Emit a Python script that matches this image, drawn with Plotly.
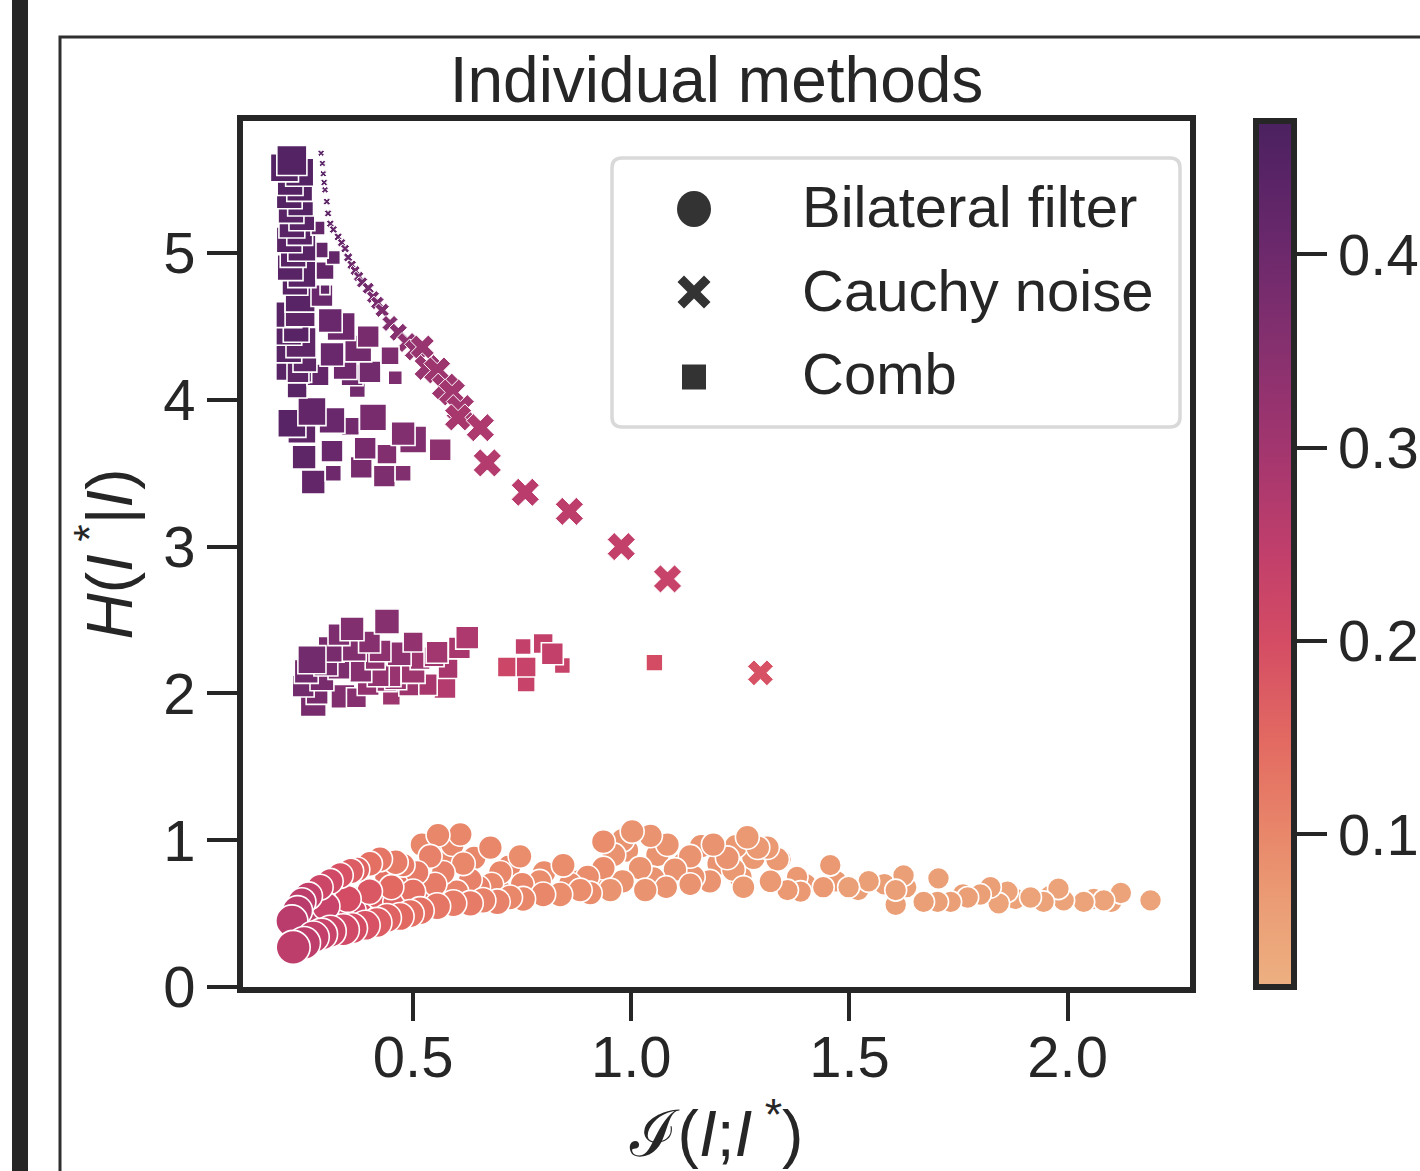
import plotly.graph_objects as go

# ---------------- data ----------------
# Bilateral filter (circles): x = I(I;I*), y = H(I*|I), hue = colour variable, w = size variable (0..1)
bil_x = [0.38, 0.42, 0.46, 0.33, 0.36, 0.28, 0.26, 0.44, 0.48, 0.52, 0.57, 0.62, 0.70, 0.58, 0.64,
         0.72, 0.80, 0.88, 0.93, 0.99, 1.06, 1.12, 1.20, 1.25, 1.28, 1.40, 1.47, 1.52, 1.58, 1.63,
         1.76, 1.88, 1.96, 2.06, 2.10, 1.16, 1.24, 0.98, 0.52, 0.59,
         1.456, 1.342, 1.38, 1.335, 1.312, 1.29, 1.266, 1.234, 1.22, 1.188, 1.18, 1.142, 1.135, 1.10, 1.083,
         1.05, 1.044, 1.02, 1.002, 0.98, 0.96, 0.936, 0.936, 0.90, 0.86, 0.844, 0.79, 0.75, 0.745, 0.70,
         0.68, 0.677, 0.65, 0.631, 0.615, 0.60, 0.608, 0.569, 0.557, 0.55, 0.539, 0.509, 0.50, 0.477, 0.46,
         0.45, 0.424, 0.401, 0.40, 0.372, 0.357, 0.35, 0.333, 0.31, 0.30, 0.287, 0.26, 0.245, 0.235, 0.222,
         2.19, 2.122, 2.083, 2.037, 1.991, 1.979, 1.945, 1.915, 1.862, 1.842, 1.823, 1.80, 1.771, 1.732, 1.704,
         1.702, 1.67, 1.624, 1.606, 1.606, 1.544, 1.498, 1.44, 1.388, 1.358, 1.319, 1.257, 1.135, 1.08, 1.032,
         0.952, 0.906, 0.883, 0.837, 0.798, 0.752, 0.722, 0.693, 0.66, 0.631, 0.592, 0.555, 0.516, 0.493, 0.47,
         0.44, 0.417, 0.39, 0.36, 0.34, 0.31, 0.29, 0.271, 0.25, 0.225]
bil_y = [0.60, 0.62, 0.58, 0.50, 0.52, 0.50, 0.42, 0.75, 0.72, 0.60, 0.62, 0.62, 0.65, 0.92, 0.88,
         0.82, 0.78, 0.72, 0.70, 0.93, 0.90, 0.84, 0.84, 0.75, 0.88, 0.70, 0.72, 0.66, 0.70, 0.68,
         0.63, 0.60, 0.62, 0.60, 0.58, 0.96, 0.96, 1.00, 0.97, 0.97,
         0.83, 0.87, 0.75, 0.87, 0.95, 0.95, 1.02, 0.80, 0.88, 0.97, 0.72, 0.75, 0.89, 0.80, 0.97,
         0.74, 1.03, 0.81, 1.06, 0.72, 0.90, 0.81, 0.99, 0.75, 0.70, 0.83, 0.72, 0.70, 0.89, 0.78,
         0.70, 0.95, 0.68, 0.73, 0.84, 0.65, 1.04, 0.78, 1.035, 0.70, 0.89, 0.78, 0.65, 0.83, 0.85,
         0.68, 0.87, 0.84, 0.65, 0.80, 0.79, 0.60, 0.76, 0.72, 0.55, 0.68, 0.62, 0.58, 0.52, 0.45,
         0.59, 0.64, 0.59, 0.58, 0.59, 0.67, 0.58, 0.61, 0.65, 0.57, 0.68, 0.63, 0.61, 0.58, 0.74,
         0.58, 0.58, 0.76, 0.56, 0.66, 0.72, 0.68, 0.68, 0.65, 0.66, 0.72, 0.68, 0.70, 0.68, 0.66,
         0.66, 0.64, 0.66, 0.63, 0.63, 0.60, 0.61, 0.58, 0.59, 0.57, 0.57, 0.55, 0.52, 0.50, 0.48,
         0.47, 0.44, 0.42, 0.40, 0.39, 0.38, 0.36, 0.34, 0.30, 0.27]
bil_hue = [0.19, 0.17, 0.16, 0.22, 0.21, 0.24, 0.25, 0.14, 0.13, 0.13, 0.12, 0.11, 0.10, 0.10, 0.10,
           0.10, 0.09, 0.09, 0.08, 0.08, 0.08, 0.08, 0.08, 0.07, 0.07, 0.07, 0.07, 0.06, 0.06, 0.06,
           0.06, 0.05, 0.05, 0.05, 0.05, 0.08, 0.07, 0.08, 0.10, 0.10,
           0.07, 0.07, 0.07, 0.07, 0.07, 0.07, 0.07, 0.07, 0.08, 0.08, 0.08, 0.08, 0.08, 0.08, 0.08,
           0.08, 0.08, 0.08, 0.08, 0.08, 0.08, 0.09, 0.09, 0.09, 0.09, 0.09, 0.09, 0.10, 0.09, 0.10,
           0.10, 0.10, 0.11, 0.11, 0.10, 0.11, 0.10, 0.11, 0.10, 0.12, 0.11, 0.12, 0.14, 0.12, 0.12,
           0.15, 0.13, 0.14, 0.18, 0.16, 0.17, 0.20, 0.19, 0.21, 0.23, 0.22, 0.24, 0.25, 0.26, 0.26,
           0.05, 0.05, 0.05, 0.05, 0.05, 0.05, 0.05, 0.05, 0.05, 0.05, 0.06, 0.06, 0.06, 0.06, 0.06,
           0.06, 0.06, 0.06, 0.06, 0.06, 0.06, 0.06, 0.07, 0.07, 0.07, 0.07, 0.07, 0.08, 0.08, 0.08,
           0.08, 0.09, 0.09, 0.09, 0.10, 0.10, 0.10, 0.11, 0.11, 0.12, 0.12, 0.13, 0.14, 0.14, 0.15,
           0.16, 0.17, 0.19, 0.20, 0.21, 0.22, 0.23, 0.24, 0.25, 0.25]
bil_w = [0.75, 0.71, 0.71, 0.79, 0.79, 0.86, 0.86, 0.68, 0.68, 0.68, 0.68, 0.64, 0.64, 0.64, 0.64,
         0.64, 0.64, 0.64, 0.64, 0.64, 0.64, 0.64, 0.64, 0.64, 0.64, 0.57, 0.57, 0.57, 0.57, 0.57,
         0.57, 0.57, 0.57, 0.57, 0.57, 0.64, 0.64, 0.64, 0.64, 0.64,
         0.57, 0.57, 0.57, 0.64, 0.64, 0.64, 0.64, 0.64, 0.64, 0.64, 0.64, 0.64, 0.64, 0.64, 0.64,
         0.64, 0.64, 0.64, 0.64, 0.64, 0.64, 0.64, 0.64, 0.64, 0.64, 0.64, 0.64, 0.64, 0.64, 0.64,
         0.64, 0.64, 0.64, 0.64, 0.64, 0.64, 0.64, 0.64, 0.64, 0.64, 0.64, 0.64, 0.68, 0.64, 0.68,
         0.68, 0.68, 0.68, 0.71, 0.68, 0.71, 0.75, 0.71, 0.71, 0.79, 0.71, 0.79, 0.79, 0.86, 0.93,
         0.57, 0.57, 0.57, 0.57, 0.57, 0.57, 0.57, 0.57, 0.57, 0.57, 0.57, 0.57, 0.57, 0.57, 0.57,
         0.57, 0.57, 0.57, 0.57, 0.57, 0.57, 0.57, 0.57, 0.57, 0.57, 0.61, 0.61, 0.61, 0.61, 0.64,
         0.64, 0.64, 0.64, 0.68, 0.68, 0.68, 0.68, 0.71, 0.71, 0.71, 0.75, 0.75, 0.79, 0.79, 0.79,
         0.82, 0.86, 0.86, 0.89, 0.93, 0.93, 0.93, 0.93, 0.96, 1.00]

# Cauchy noise (crosses)
cau_x = [0.289, 0.292, 0.294, 0.296, 0.298, 0.302, 0.305, 0.310, 0.317, 0.328,
         0.336, 0.344, 0.351, 0.359, 0.367, 0.375, 0.383, 0.397, 0.408, 0.418,
         0.429, 0.447, 0.466, 0.486, 0.505, 0.521, 0.532, 0.555, 0.573, 0.589,
         0.608, 0.603, 0.654, 0.670, 0.757, 0.858, 0.977, 1.083, 1.296]
cau_y = [5.68, 5.61, 5.54, 5.48, 5.43, 5.35, 5.27, 5.20, 5.16, 5.11,
         5.07, 5.03, 4.97, 4.92, 4.88, 4.84, 4.80, 4.76, 4.70, 4.66,
         4.61, 4.52, 4.46, 4.39, 4.34, 4.36, 4.22, 4.20, 4.09, 4.05,
         3.94, 3.88, 3.81, 3.57, 3.37, 3.24, 3.00, 2.78, 2.14]
cau_hue = [0.44, 0.44, 0.44, 0.44, 0.43, 0.43, 0.43, 0.42, 0.42, 0.42,
           0.41, 0.41, 0.41, 0.40, 0.40, 0.40, 0.39, 0.39, 0.38, 0.38,
           0.37, 0.36, 0.35, 0.34, 0.33, 0.32, 0.32, 0.31, 0.31, 0.30,
           0.30, 0.29, 0.28, 0.27, 0.26, 0.25, 0.24, 0.23, 0.19]
cau_w = [0.02, 0.02, 0.02, 0.03, 0.03, 0.04, 0.05, 0.06, 0.07, 0.08,
         0.09, 0.10, 0.12, 0.13, 0.15, 0.16, 0.19, 0.22, 0.25, 0.27,
         0.30, 0.36, 0.43, 0.50, 0.57, 0.64, 0.71, 0.75, 0.75, 0.75,
         0.79, 0.75, 0.79, 0.79, 0.79, 0.79, 0.79, 0.79, 0.71]

# Comb (squares)
comb_x = [0.271, 0.339, 0.45, 0.28, 0.37, 0.573, 0.248, 0.530, 0.397, 0.49,
          0.440, 0.291, 0.46, 0.447, 0.42, 0.500, 0.38, 0.255, 0.33, 0.58,
          0.30, 0.413, 0.516, 0.548, 0.468, 0.555, 0.424, 0.312, 0.365, 0.606,
          0.40, 0.50, 0.624, 0.33, 0.360, 0.440, 0.268,
          0.759, 0.716, 0.842, 0.759, 0.752, 0.798, 0.819, 1.053,
          0.271, 0.434, 0.477, 0.317, 0.381, 0.25, 0.44, 0.314, 0.562, 0.39,
          0.500, 0.477, 0.245, 0.356, 0.222, 0.314, 0.408, 0.268,
          0.234, 0.372, 0.36, 0.282, 0.24, 0.215, 0.236, 0.401, 0.344, 0.459,
          0.252, 0.447, 0.314, 0.215, 0.374, 0.243, 0.397, 0.215, 0.232, 0.335,
          0.310, 0.215, 0.241, 0.241, 0.291, 0.298, 0.229, 0.245, 0.298, 0.218,
          0.317, 0.225, 0.287, 0.245, 0.216, 0.240, 0.282, 0.222, 0.245, 0.220,
          0.242, 0.216, 0.240, 0.218, 0.240, 0.205, 0.222]
comb_y = [1.93, 1.98, 1.98, 2.00, 1.97, 2.04, 2.05, 2.06, 2.06, 2.05,
          2.08, 2.10, 2.10, 2.12, 2.12, 2.15, 2.15, 2.15, 2.17, 2.17,
          2.20, 2.23, 2.23, 2.25, 2.27, 2.28, 2.29, 2.30, 2.30, 2.31,
          2.35, 2.35, 2.38, 2.40, 2.44, 2.49, 2.23,
          2.07, 2.18, 2.19, 2.18, 2.32, 2.34, 2.27, 2.21,
          3.44, 3.48, 3.50, 3.50, 3.54, 3.61, 3.63, 3.65, 3.66, 3.67,
          3.73, 3.77, 3.80, 3.82, 3.84, 3.86, 3.88, 3.92,
          4.08, 4.07, 4.17, 4.17, 4.20, 4.22, 4.19, 4.19, 4.22, 4.15,
          4.27, 4.30, 4.31, 4.34, 4.35, 4.39, 4.43, 4.46, 4.48, 4.50,
          4.54, 4.58, 4.60, 4.70, 4.71, 4.75, 4.80, 4.86, 4.88, 4.90,
          4.97, 4.99, 5.02, 5.04, 5.09, 5.14, 5.17, 5.19, 5.24, 5.29,
          5.34, 5.39, 5.44, 5.48, 5.55, 5.58, 5.63]
comb_hue = [0.38, 0.36, 0.31, 0.38, 0.35, 0.27, 0.39, 0.29, 0.33, 0.31,
            0.32, 0.38, 0.32, 0.32, 0.33, 0.31, 0.35, 0.39, 0.37, 0.29,
            0.38, 0.34, 0.31, 0.30, 0.34, 0.30, 0.34, 0.38, 0.36, 0.29,
            0.35, 0.33, 0.28, 0.37, 0.36, 0.35, 0.39,
            0.23, 0.22, 0.23, 0.23, 0.24, 0.24, 0.24, 0.20,
            0.42, 0.37, 0.36, 0.40, 0.38, 0.43, 0.36, 0.41, 0.34, 0.38,
            0.36, 0.36, 0.43, 0.39, 0.44, 0.41, 0.38, 0.42,
            0.44, 0.39, 0.40, 0.42, 0.44, 0.44, 0.43, 0.39, 0.40, 0.37,
            0.43, 0.37, 0.41, 0.44, 0.39, 0.43, 0.38, 0.44, 0.44, 0.40,
            0.41, 0.44, 0.43, 0.44, 0.41, 0.42, 0.44, 0.44, 0.42, 0.44,
            0.42, 0.44, 0.42, 0.44, 0.44, 0.44, 0.42, 0.44, 0.44, 0.44,
            0.45, 0.45, 0.45, 0.45, 0.45, 0.45, 0.45]
comb_w = [0.71, 0.64, 0.43, 0.57, 0.50, 0.57, 0.57, 0.57, 0.57, 0.50,
          0.50, 0.64, 0.57, 0.57, 0.57, 0.64, 0.57, 0.64, 0.57, 0.50,
          0.64, 0.50, 0.50, 0.50, 0.64, 0.57, 0.57, 0.71, 0.64, 0.57,
          0.57, 0.50, 0.61, 0.57, 0.64, 0.68, 0.79,
          0.43, 0.50, 0.36, 0.50, 0.36, 0.50, 0.57, 0.39,
          0.64, 0.57, 0.36, 0.36, 0.57, 0.64, 0.50, 0.57, 0.57, 0.57,
          0.75, 0.64, 0.79, 0.43, 0.79, 0.71, 0.75, 0.79,
          0.50, 0.36, 0.57, 0.57, 0.64, 0.71, 0.57, 0.57, 0.64, 0.29,
          0.64, 0.43, 0.64, 0.71, 0.75, 0.86, 0.57, 0.71, 0.71, 0.79,
          0.64, 0.71, 0.86, 0.86, 0.57, 0.14, 0.71, 0.79, 0.43, 0.71,
          0.29, 0.71, 0.36, 0.79, 0.71, 0.71, 0.29, 0.71, 0.71, 0.71,
          0.71, 0.71, 0.71, 0.71, 0.79, 0.79, 0.86]

for a, b, c, d in [(bil_x, bil_y, bil_hue, bil_w), (cau_x, cau_y, cau_hue, cau_w), (comb_x, comb_y, comb_hue, comb_w)]:
    assert len(a) == len(b) == len(c) == len(d), (len(a), len(b), len(c), len(d))

legend_labels = ["Bilateral filter", "Cauchy noise", "Comb"]
cbar_ticks = [0.1, 0.2, 0.3, 0.4]
x_ticks = [0.5, 1.0, 1.5, 2.0]
y_ticks = [0, 1, 2, 3, 4, 5]

# ---------------- style ----------------
INK = "#262626"
FONT = "Liberation Sans, Arial, sans-serif"
SIZE_MIN, SIZE_MAX = 6, 34


def px(w, k=1.0):
    return [(SIZE_MIN + (SIZE_MAX - SIZE_MIN) * v) * k for v in w]


flare = [
    [0.00, "#EDB081"], [0.10, "#EB9C74"], [0.18, "#E8866A"], [0.28, "#E36B62"],
    [0.40, "#D44C64"], [0.50, "#C13F6B"], [0.62, "#A3366F"], [0.74, "#86306F"],
    [0.85, "#6C296C"], [0.93, "#5A2466"], [1.00, "#4B2160"],
]

L, R, T, B = 243, 1190, 121, 987
W, H = 1420, 1171
PW, PH = R - L, B - T


def pxx(x):
    return (x - L) / PW


def pxy(y):
    return (B - y) / PH


fig = go.Figure()

fig.add_trace(go.Scatter(
    x=bil_x, y=bil_y, mode="markers", name=legend_labels[0], showlegend=False,
    marker=dict(symbol="circle", size=px(bil_w), color=bil_hue, coloraxis="coloraxis",
                line=dict(color="white", width=1.6), opacity=1)))
fig.add_trace(go.Scatter(
    x=cau_x, y=cau_y, mode="markers", name=legend_labels[1], showlegend=False,
    marker=dict(symbol="x", size=px(cau_w, 0.885), color=cau_hue, coloraxis="coloraxis",
                line=dict(color="white", width=1.0), opacity=1)))
fig.add_trace(go.Scatter(
    x=comb_x, y=comb_y, mode="markers", name=legend_labels[2], showlegend=False,
    marker=dict(symbol="square", size=px(comb_w), color=comb_hue, coloraxis="coloraxis",
                line=dict(color="white", width=1.6), opacity=1)))

axis_common = dict(showline=True, linewidth=6, linecolor=INK, mirror=True, ticks="outside",
                   tickwidth=4, tickcolor=INK, showgrid=False, zeroline=False,
                   tickfont=dict(family=FONT, size=58, color=INK))

fig.update_xaxes(range=[(L - 195) / 436.3, (R - 195) / 436.3], tickvals=x_ticks, tickformat=".1f",
                 ticklen=28, ticklabelstandoff=-14,
                 title=dict(text="ℐ(<i>I</i>;<i>I</i><sup> *</sup>)", standoff=3,
                            font=dict(family=FONT, size=64, color=INK)),
                 **axis_common)
fig.update_yaxes(range=[0, (B - T) / 146.8], tickvals=y_ticks, ticklen=30,
                 title=dict(text="<i>H</i>(<i>I</i><sup> *</sup>|<i>I</i>)", standoff=12,
                            font=dict(family=FONT, size=64, color=INK)),
                 **axis_common)

shapes = []
# outer panel frame and thick bar at left
shapes.append(dict(type="rect", xref="paper", yref="paper", x0=pxx(60), x1=pxx(1440), y0=pxy(1200), y1=pxy(37),
                   line=dict(color="#2F2F2F", width=3), fillcolor="rgba(0,0,0,0)", layer="below"))
shapes.append(dict(type="rect", xref="paper", yref="paper", x0=pxx(12), x1=pxx(28), y0=pxy(1200), y1=pxy(-20),
                   line=dict(width=0), fillcolor=INK, layer="below"))
# legend box (rounded, symmetric path in pixels around its centre)
hw, hh, r = 284, 134.5, 10
box = (f"M{-hw + r},{-hh} L{hw - r},{-hh} Q{hw},{-hh} {hw},{-hh + r} L{hw},{hh - r} Q{hw},{hh} {hw - r},{hh} "
       f"L{-hw + r},{hh} Q{-hw},{hh} {-hw},{hh - r} L{-hw},{-hh + r} Q{-hw},{-hh} {-hw + r},{-hh} Z")
shapes.append(dict(type="path", xref="paper", yref="paper", xsizemode="pixel", ysizemode="pixel",
                   xanchor=pxx(896), yanchor=pxy(292.5), path=box,
                   line=dict(color="#D9D9D9", width=3.5), fillcolor="rgba(255,255,255,0.85)"))
mk = "#333333"
shapes.append(dict(type="circle", xref="paper", yref="paper", xsizemode="pixel", ysizemode="pixel",
                   xanchor=pxx(694), yanchor=pxy(209), x0=-17, x1=17, y0=-18, y1=18,
                   line=dict(width=0), fillcolor=mk))
s, d = 16.5, 6.5
pts = [(0, d), (s - d, s), (s, s - d), (d, 0), (s, -(s - d)), (s - d, -s), (0, -d), (-(s - d), -s),
       (-s, -(s - d)), (-d, 0), (-s, s - d), (-(s - d), s)]
cross = "M" + " L".join(f"{a},{b}" for a, b in pts) + " Z"
shapes.append(dict(type="path", xref="paper", yref="paper", xsizemode="pixel", ysizemode="pixel",
                   xanchor=pxx(694), yanchor=pxy(292), path=cross, line=dict(width=0), fillcolor=mk))
shapes.append(dict(type="rect", xref="paper", yref="paper", xsizemode="pixel", ysizemode="pixel",
                   xanchor=pxx(694), yanchor=pxy(377), x0=-12, x1=12, y0=-12.5, y1=12.5,
                   line=dict(width=0), fillcolor=mk))

annotations = []
for lab, yy in zip(legend_labels, [206, 290, 373]):
    annotations.append(dict(text=lab, xref="paper", yref="paper", x=pxx(800), y=pxy(yy),
                            xanchor="left", yanchor="middle", showarrow=False,
                            font=dict(family=FONT, size=58, color=INK)))

fig.update_layout(
    width=W, height=H, margin=dict(l=L, r=W - R, t=T, b=H - B, pad=0, autoexpand=False),
    paper_bgcolor="white", plot_bgcolor="white",
    font=dict(family=FONT, color=INK),
    title=dict(text="Individual methods", x=0.5, xref="paper", y=1 - 80 / H, yref="container",
               xanchor="center", yanchor="middle", font=dict(family=FONT, size=64, color=INK)),
    coloraxis=dict(colorscale=flare, cmin=0.021, cmax=0.469,
                   colorbar=dict(x=pxx(1256), xanchor="left", xpad=0, ypad=0, y=0.5, yanchor="middle",
                                 thickness=38, thicknessmode="pixels", len=PH, lenmode="pixels",
                                 outlinewidth=6, outlinecolor=INK, ticks="outside", ticklen=30,
                                 tickwidth=4, tickcolor=INK, tickvals=cbar_ticks, tickformat=".1f",
                                 tickfont=dict(family=FONT, size=58, color=INK))),
    shapes=shapes, annotations=annotations, showlegend=False,
)

fig.write_html("out.html", config={"displayModeBar": False},
               post_script="document.body.style.margin='0px';document.body.style.padding='0px';")
